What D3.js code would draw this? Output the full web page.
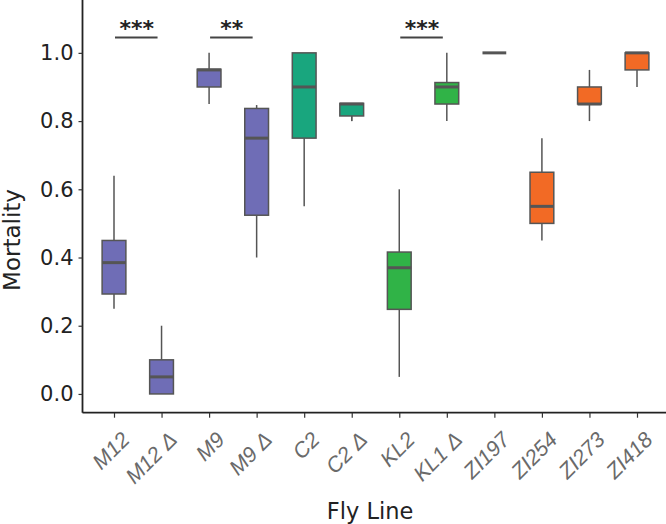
<!DOCTYPE html>
<html><head><meta charset="utf-8">
<script src="https://cdn.jsdelivr.net/npm/d3@7"></script>
<style>body{margin:0;background:#fff}svg{display:block}</style>
</head><body><svg id="c" width="666" height="524"></svg>
<script>
const categories = ["M12","M12 Δ","M9","M9 Δ","C2","C2 Δ","KL2","KL1 Δ","ZI197","ZI254","ZI273","ZI418"];
const groups     = ["M","M","M","M","C","C","KL","KL","ZI","ZI","ZI","ZI"];
const whiskerLow = [0.25, 0.00, 0.85, 0.40, 0.55, 0.80, 0.05, 0.80, 1.00, 0.45, 0.80, 0.90];
const q1         = [0.293,0.00, 0.90, 0.524,0.75, 0.815,0.248,0.85, 1.00, 0.50, 0.85, 0.95];
const median     = [0.385,0.05, 0.95, 0.75, 0.90, 0.85, 0.37, 0.90, 1.00, 0.55, 0.85, 1.00];
const q3         = [0.45, 0.10, 0.952,0.837,1.00, 0.852,0.416,0.913,1.00, 0.65, 0.90, 1.00];
const whiskerHigh= [0.64, 0.20, 1.00, 0.847,1.00, 0.80, 0.60, 1.00, 1.00, 0.75, 0.95, 1.00];
const yTicks = [0.0,0.2,0.4,0.6,0.8,1.0];
const sigPairs = [["M12","M12 Δ","***"],["M9","M9 Δ","**"],["KL2","KL1 Δ","***"]];
const sigLevel = 1.045;
const groupColors = {M:"#6F6DB6", C:"#19A67E", KL:"#30B347", ZI:"#F26A25"};

const svg = d3.select("#c");
const x = d3.scalePoint().domain(categories).range([114, 637]);
const y = d3.scaleLinear().domain([-0.055, 1.155]).range([412.7, 0]);
const step = x.step();
const bw = step * 0.5;
const stroke = "#555555";

// axes
const yAxis = svg.append("g").attr("transform","translate(82.5,0)")
  .call(d3.axisLeft(y).tickValues(yTicks).tickFormat(d3.format(".1f")).tickSize(4).tickPadding(5));
yAxis.select(".domain").attr("stroke","#222").attr("stroke-width",1.8).attr("d","M0,0V412.7");
yAxis.selectAll(".tick line").attr("stroke","#333").attr("stroke-width",1.2);
yAxis.selectAll(".tick text").attr("fill","#222").style("font-family","DejaVu Sans").style("font-size","21px");

const xAxis = svg.append("g").attr("transform","translate(0,412.7)")
  .call(d3.axisBottom(x).tickSize(5).tickPadding(4));
xAxis.select(".domain").attr("stroke","#222").attr("stroke-width",1.8).attr("d","M82.5,0H666");
xAxis.selectAll(".tick line").attr("stroke","#333").attr("stroke-width",1.2);
xAxis.selectAll(".tick text").attr("fill","#6a6a6a").style("font-family","Liberation Sans").style("font-style","italic").style("font-size","21.5px")
  .attr("text-anchor","end").attr("dy","0").attr("transform","translate(10,22) rotate(-45)");

// boxes
const data = categories.map((c,i)=>({c,g:groups[i],lo:whiskerLow[i],q1:q1[i],med:median[i],q3:q3[i],hi:whiskerHigh[i]}));
const b = svg.append("g").selectAll("g").data(data).join("g");
b.append("line").attr("x1",d=>x(d.c)).attr("x2",d=>x(d.c)).attr("y1",d=>y(d.hi)).attr("y2",d=>y(d.q3)).attr("stroke",stroke).attr("stroke-width",1.5);
b.append("line").attr("x1",d=>x(d.c)).attr("x2",d=>x(d.c)).attr("y1",d=>y(d.q1)).attr("y2",d=>y(d.lo)).attr("stroke",stroke).attr("stroke-width",1.5);
b.append("rect").attr("x",d=>x(d.c)-bw/2).attr("width",bw).attr("y",d=>y(d.q3)).attr("height",d=>Math.max(0,y(d.q1)-y(d.q3)))
  .attr("fill",d=>groupColors[d.g]).attr("stroke",stroke).attr("stroke-width",1.5);
b.append("line").attr("x1",d=>x(d.c)-bw/2).attr("x2",d=>x(d.c)+bw/2).attr("y1",d=>y(d.med)).attr("y2",d=>y(d.med)).attr("stroke",stroke).attr("stroke-width",3);

// significance
const s = svg.append("g").selectAll("g").data(sigPairs).join("g");
s.append("line").attr("x1",d=>x(d[0])+1).attr("x2",d=>x(d[1])-4).attr("y1",y(sigLevel)).attr("y2",y(sigLevel)).attr("stroke","#444").attr("stroke-width",1.8);
s.append("text").attr("x",d=>(x(d[0])+x(d[1]))/2-1).attr("y",y(sigLevel)-2).attr("text-anchor","middle")
  .style("font-family","DejaVu Sans").style("font-size","22px").style("font-weight","bold").attr("fill","#222").text(d=>d[2]);

// titles
svg.append("text").attr("transform","translate(20,240) rotate(-90)").attr("text-anchor","middle")
  .style("font-family","DejaVu Sans").style("font-size","23px").attr("fill","#222").text("Mortality");
svg.append("text").attr("x",370).attr("y",519).attr("text-anchor","middle")
  .style("font-family","DejaVu Sans").style("font-size","22.5px").attr("fill","#222").text("Fly Line");
</script></body></html>
